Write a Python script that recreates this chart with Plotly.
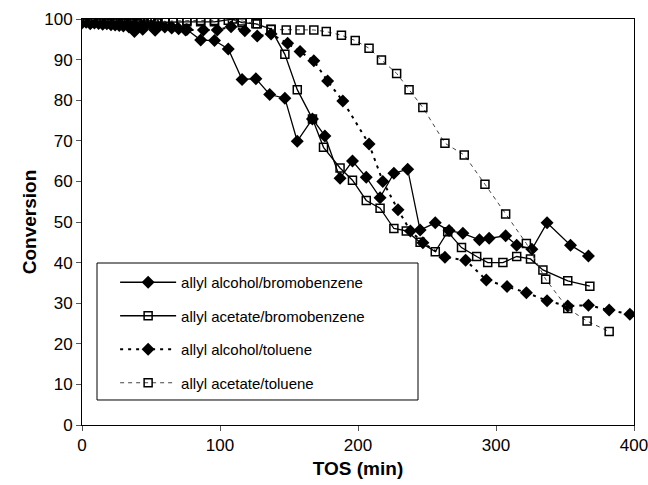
import plotly.graph_objects as go

# allyl alcohol / bromobenzene (solid, filled diamonds)
alc_br_x = [0, 2, 4, 6, 8, 10, 12, 14, 16, 18, 20, 22, 24, 26, 28, 30, 33, 36, 40, 45, 50, 55, 60, 65, 70, 76,
            86, 96, 106, 116, 126, 136, 147, 156, 167, 176, 187, 196, 206, 216, 226, 236, 245, 256, 266, 276,
            288, 295, 307, 315, 326, 337, 354, 367]
alc_br_y = [99.5, 99.8, 99.6, 99.7, 99.5, 99.6, 99.4, 99.5, 99.6, 99.3, 99.5, 99.4, 99.2, 99.4, 99.3, 99.2, 99.0,
            98.8, 98.9, 98.6, 98.5, 98.3, 98.0, 97.8, 97.6, 97.4, 94.8, 94.7, 92.6, 85.1, 85.3, 81.4, 80.5, 69.9,
            75.4, 71.2, 60.8, 65.0, 61.0, 56.0, 62.0, 63.0, 48.0, 49.8, 47.9, 47.2, 45.6, 46.0, 46.6, 44.3, 43.3,
            49.8, 44.3, 41.6]

# allyl acetate / bromobenzene (solid, open squares)
ace_br_x = [0, 5, 10, 15, 20, 25, 30, 35, 40, 45, 50, 55, 60, 66, 76, 86, 96, 109, 116, 126, 137, 147, 156, 167,
            175, 187, 196, 206, 216, 226, 235, 245, 256, 265, 275, 286, 294, 305, 315, 325, 334, 352, 368]
ace_br_y = [99.5, 99.3, 99.6, 99.4, 99.5, 99.3, 99.4, 99.2, 99.3, 99.1, 99.2, 99.0, 99.2, 99.3, 99.3, 99.3, 99.3,
            100.0, 99.1, 98.8, 97.5, 91.3, 82.6, 75.4, 68.4, 63.3, 60.3, 55.3, 53.4, 48.4, 47.8, 45.0, 42.7, 47.6,
            43.7, 41.5, 40.0, 40.0, 41.5, 40.9, 38.2, 35.5, 34.2]

# allyl alcohol / toluene (dotted, filled diamonds)
alc_tol_x = [0, 3, 6, 9, 12, 15, 18, 21, 24, 27, 30, 34, 38, 44, 53, 65, 75, 88, 98, 108, 118, 127, 137, 149,
             158, 168, 178, 189, 208, 218, 229, 238, 247, 263, 278, 293, 308, 322, 337, 352, 367, 382, 397]
alc_tol_y = [99.0, 99.2, 98.8, 99.0, 98.9, 98.7, 98.8, 98.6, 98.5, 98.4, 98.3, 98.0, 96.9, 97.5, 97.2, 98.0, 97.3,
             97.3, 97.3, 98.1, 97.1, 95.8, 96.3, 94.0, 92.0, 89.7, 84.7, 79.8, 69.2, 60.0, 53.0, 47.8, 44.9, 41.3,
             40.6, 35.7, 34.1, 32.6, 30.6, 29.3, 29.5, 28.3, 27.3]

# allyl acetate / toluene (dotted, open squares)
ace_tol_x = [0, 4, 8, 12, 16, 20, 24, 28, 32, 36, 40, 45, 50, 55, 60, 66, 76, 86, 96, 106, 116, 127, 137, 148,
             158, 168, 177, 188, 198, 208, 217, 228, 237, 247, 263, 277, 292, 307, 322, 336, 352, 366, 382]
ace_tol_y = [99.8, 99.6, 99.9, 99.7, 99.8, 99.6, 99.7, 99.8, 99.6, 99.7, 99.5, 99.6, 99.4, 99.5, 99.3, 99.5, 99.6,
             99.6, 99.6, 99.7, 99.5, 98.8, 97.4, 97.3, 97.3, 97.3, 96.9, 96.0, 94.7, 92.8, 89.9, 86.6, 82.6, 78.2,
             69.4, 66.5, 59.3, 52.0, 44.7, 35.9, 28.7, 25.6, 23.0]

series_names = ["allyl alcohol/bromobenzene", "allyl acetate/bromobenzene",
                "allyl alcohol/toluene", "allyl acetate/toluene"]
x_ticks = [0, 100, 200, 300, 400]
y_ticks = [0, 10, 20, 30, 40, 50, 60, 70, 80, 90, 100]

FONT = "Arial, Liberation Sans, sans-serif"

fig = go.Figure()
fig.add_trace(go.Scatter(x=alc_br_x, y=alc_br_y, name=series_names[0], mode="lines+markers",
                         line=dict(color="black", width=1.3),
                         marker=dict(symbol="diamond", size=10, color="black"),
                         legendgroup="a"))
fig.add_trace(go.Scatter(x=ace_br_x, y=ace_br_y, name=series_names[1], mode="lines+markers",
                         line=dict(color="black", width=1.3),
                         marker=dict(symbol="square-open", size=8, color="black", line=dict(width=1.5)),
                         legendgroup="b"))
fig.add_trace(go.Scatter(x=alc_tol_x, y=alc_tol_y, name=series_names[2], mode="lines+markers",
                         line=dict(color="black", width=2, dash="3px,5px"),
                         marker=dict(symbol="diamond", size=10, color="black"),
                         legendgroup="c"))
fig.add_trace(go.Scatter(x=ace_tol_x, y=ace_tol_y, name=series_names[3], mode="lines+markers",
                         line=dict(color="#444", width=1, dash="4px,4px"),
                         marker=dict(symbol="square-open", size=8, color="black", line=dict(width=1.5)),
                         legendgroup="d"))

# legend frame
fig.add_shape(type="rect", xref="paper", yref="paper", x0=0.0272, x1=0.6087, y0=0.0616, y1=0.399,
              line=dict(color="black", width=1), fillcolor="white", layer="below")

fig.update_layout(
    width=648, height=485,
    margin=dict(l=82, r=14, t=19, b=60),
    paper_bgcolor="white", plot_bgcolor="white",
    font=dict(family=FONT, color="black"),
    showlegend=True,
    legend=dict(x=0.06, y=0.3916, xanchor="left", yanchor="top", bgcolor="rgba(0,0,0,0)",
                borderwidth=0, font=dict(size=15, family=FONT), itemwidth=56,
                traceorder="grouped", tracegroupgap=11),
    xaxis=dict(range=[0, 400], tickvals=x_ticks, ticks="outside", ticklen=5, tickcolor="#555",
               showline=True, linecolor="black", linewidth=1, mirror=True, showgrid=False, zeroline=False,
               automargin=False, ticklabeloverflow="allow",
               tickfont=dict(size=17), title=dict(text="<b>TOS (min)</b>", font=dict(size=19), standoff=7)),
    yaxis=dict(range=[0, 100], tickvals=y_ticks, ticks="outside", ticklen=5, tickcolor="#555",
               showline=True, linecolor="black", linewidth=1, mirror=True, showgrid=False, zeroline=False,
               automargin=False, ticklabeloverflow="allow",
               tickfont=dict(size=17), title=dict(text="<b>Conversion</b>", font=dict(size=19), standoff=2)),
)

fig.write_html("out.html", config={"displayModeBar": False},
               post_script="document.body.style.margin='0';document.body.style.overflow='hidden';")
